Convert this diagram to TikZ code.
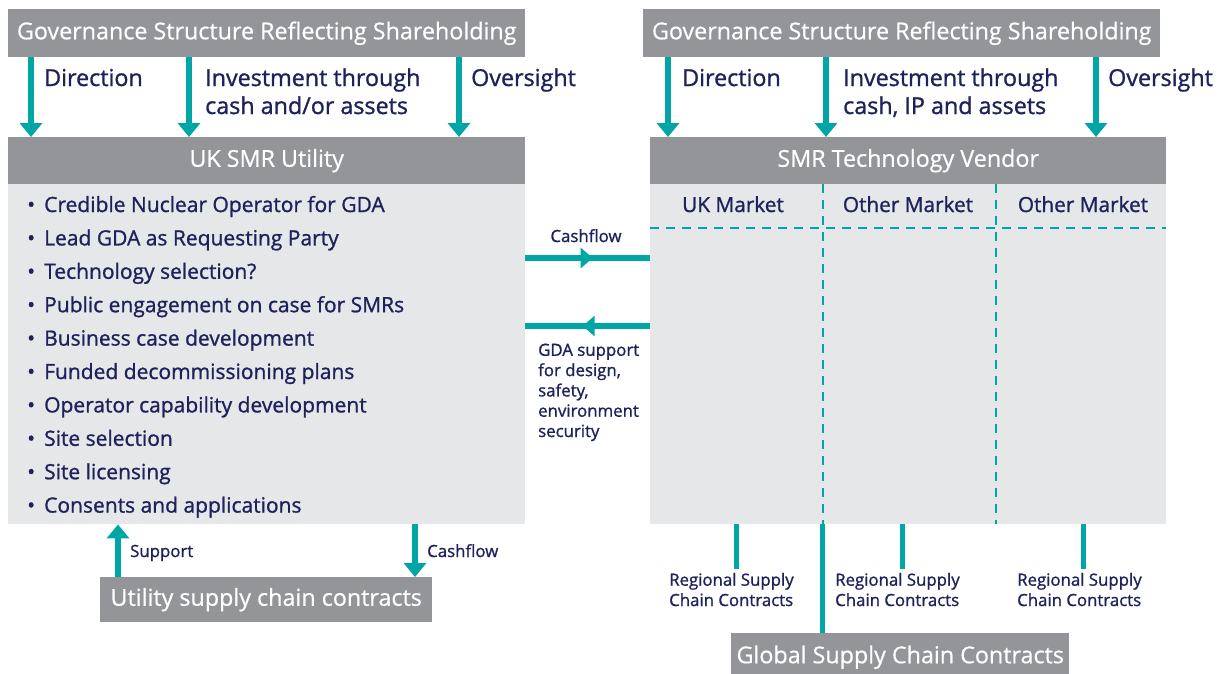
\documentclass[tikz,border=0pt]{standalone}
\usepackage{fontspec}
\setmainfont{Open Sans}[FakeBold=0.6]
\newfontfamily\medfont{Open Sans}[FakeBold=1.1]
\usetikzlibrary{arrows.meta,decorations.markings,calc}
\definecolor{tealc}{RGB}{0,165,165}
\definecolor{dgray}{RGB}{147,149,152}
\definecolor{lgray}{RGB}{230,231,232}
\definecolor{navy}{RGB}{30,34,92}
\tikzset{
  darkbox/.style={fill=dgray, text=white, inner sep=0pt, anchor=north west, font=\fontsize{23.3}{26}\selectfont},
  lightbox/.style={fill=lgray, inner sep=0pt, anchor=north west},
  tarrow/.style={draw=tealc, line width=6.5pt, -{Triangle[width=22pt,length=14pt]}},
  tline/.style={draw=tealc, line width=5pt},
  dline/.style={draw=tealc, line width=1.4pt, dash pattern=on 9pt off 7pt},
  midarrow/.style={draw=tealc, line width=6pt, postaction={decorate, decoration={markings, mark=at position 0.54 with {\arrow{Triangle[width=20pt,length=12pt]}}}}},
  biglbl/.style={text=navy, inner sep=0pt, anchor=base west, align=left, font=\medfont\fontsize{23.3}{28}\selectfont},
  itemlbl/.style={text=navy, inner sep=0pt, anchor=base west, font=\medfont\fontsize{21}{24}\selectfont},
  mktlbl/.style={text=navy, inner sep=0pt, anchor=base, font=\medfont\fontsize{20.8}{24}\selectfont},
  smalllbl/.style={text=navy, inner sep=0pt, anchor=base west, align=left, font=\medfont\fontsize{16.8}{20.3}\selectfont},
}
\begin{document}
\begin{tikzpicture}[x=1pt,y=-1pt]
\clip (0,0) rectangle (1223,673);
\fill[white] (0,0) rectangle (1223,673);

% left side
\node[darkbox, minimum width=517pt, minimum height=48pt] (gl) at (8,9) {Governance Structure Reflecting Shareholding};
\node[darkbox, minimum width=517pt, minimum height=47pt] (uh) at (8,137) {UK SMR Utility};
\node[lightbox, minimum width=517pt, minimum height=340pt] (ub) at (8,184) {};

\draw[tarrow] ([xshift=23pt]gl.south west) -- ([xshift=23pt]uh.north west);
\draw[tarrow] ([xshift=181pt]gl.south west) -- ([xshift=181pt]uh.north west);
\draw[tarrow] ([xshift=451pt]gl.south west) -- ([xshift=451pt]uh.north west);
\node[biglbl] (ldir) at (44,86) {Direction};
\node[biglbl] (linv) at (205,114) {Investment through\\cash and/or assets};
\node[biglbl] (lov) at (471,86) {Oversight};

\foreach \t [count=\i from 0] in {Credible Nuclear Operator for GDA, Lead GDA as Requesting Party, Technology selection?, Public engagement on case for SMRs, Business case development, Funded decommissioning plans, Operator capability development, Site selection, Site licensing, Consents and applications}{
  \node[itemlbl] (b\i) at (27,{212+33.4*\i}) {\makebox[17pt][l]{\textbullet}\t};
}

% right side
\node[darkbox, minimum width=517pt, minimum height=48pt] (gr) at (643,9) {Governance Structure Reflecting Shareholding};
\node[darkbox, minimum width=516pt, minimum height=47pt] (vh) at (650,137) {SMR Technology Vendor};
\node[lightbox, minimum width=516pt, minimum height=340pt] (vb) at (650,184) {};

\draw[tarrow] ([xshift=25pt]gr.south west) -- ([xshift=18pt]vh.north west);
\draw[tarrow] ([xshift=183pt]gr.south west) -- ([xshift=176pt]vh.north west);
\draw[tarrow] ([xshift=453pt]gr.south west) -- ([xshift=446pt]vh.north west);
\node[biglbl] (rdir) at (682,86) {Direction};
\node[biglbl] (rinv) at (843,114) {Investment through\\cash, IP and assets};
\node[biglbl] (rov) at (1108,86) {Oversight};

\node[mktlbl] (m1) at (733,212) {UK Market};
\node[mktlbl] (m2) at (908,212) {Other Market};
\node[mktlbl] (m3) at (1083,212) {Other Market};
\draw[dline] ([yshift=-44pt]vb.north west) -- ([yshift=-44pt]vb.north east);
\draw[dline] ([xshift=173pt]vb.north west) -- ([xshift=173pt]vb.south west);
\draw[dline] ([xshift=346pt]vb.north west) -- ([xshift=346pt]vb.south west);

% middle flows
\draw[midarrow] ([yshift=-74pt]ub.north east) -- ([yshift=-74pt]vb.north west);
\draw[midarrow] ([yshift=-142pt]vb.north west) -- ([yshift=-142pt]ub.north east);
\node[smalllbl, anchor=base] (cf1) at (586,242) {Cashflow};
\node[smalllbl] (gda) at (538,437) {GDA support\\for design,\\safety,\\environment\\security};

% bottom left
\node[darkbox, minimum width=332pt, minimum height=45pt] (usb) at (100,577) {Utility supply chain contracts};
\draw[tarrow] ([xshift=18pt]usb.north west) -- ([xshift=110pt]ub.south west);
\draw[tarrow] ([xshift=407pt]ub.south west) -- ([xshift=315pt]usb.north west);
\node[smalllbl] (sup) at (130,557) {Support};
\node[smalllbl] (cf2) at (427,557) {Cashflow};

% bottom right
\node[darkbox, minimum width=338pt, minimum height=48pt] (gsb) at (731,633) {Global Supply Chain Contracts};
\node[smalllbl] (r1) at (669,606) {Regional Supply\\Chain Contracts};
\node[smalllbl] (r2) at (835,606) {Regional Supply\\Chain Contracts};
\node[smalllbl] (r3) at (1017,606) {Regional Supply\\Chain Contracts};
\coordinate (e1) at (736,569);
\coordinate (e2) at (902,569);
\coordinate (e3) at (1083,569);
\draw[tline] ([xshift=86pt]vb.south west) -- (e1);
\draw[tline] ([xshift=252pt]vb.south west) -- (e2);
\draw[tline] ([xshift=433pt]vb.south west) -- (e3);
\draw[tline] ([xshift=172pt]vb.south west) -- ([xshift=91pt]gsb.north west);
\end{tikzpicture}
\end{document}
